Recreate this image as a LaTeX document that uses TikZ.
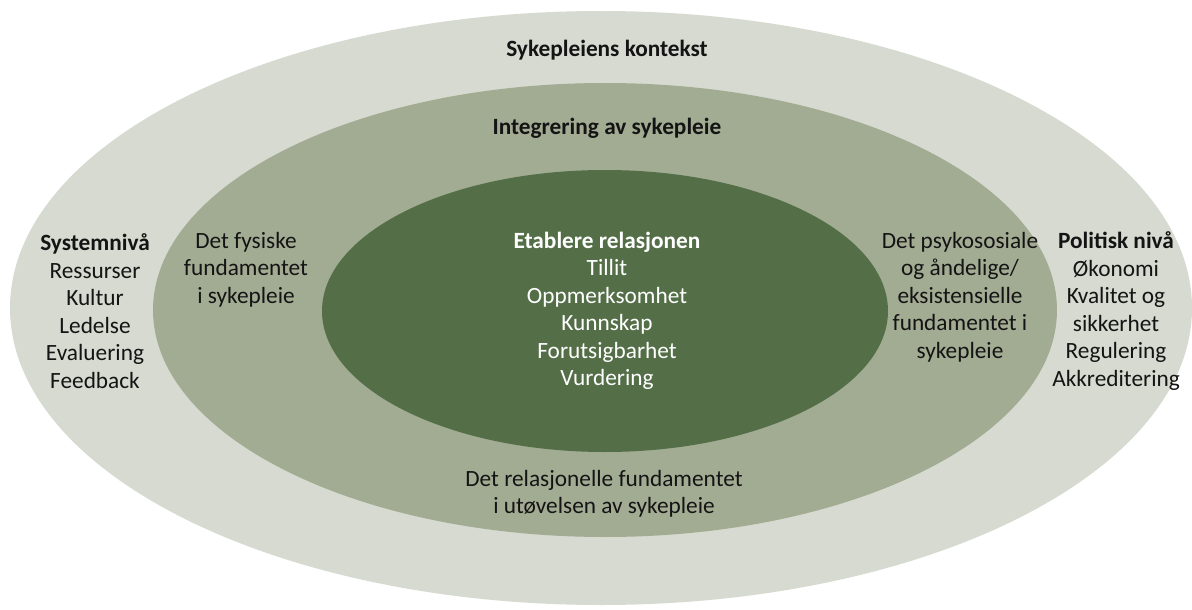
\documentclass[tikz,border=0pt]{standalone}
\usepackage{fontspec}
\setmainfont{Carlito}
\definecolor{outerc}{HTML}{D7DAD0}
\definecolor{midc}{HTML}{A2AC93}
\definecolor{innerc}{HTML}{546F48}
\definecolor{txt}{HTML}{141414}
\begin{document}
\begin{tikzpicture}[x=1pt,y=-1pt,
  lbl/.style={align=center,inner sep=0pt,text=txt,font=\fontsize{23.3}{27.5}\selectfont},
  wlbl/.style={lbl,text=white}]
\useasboundingbox (0,0) rectangle (1192,610);
\fill[outerc] (601,308) ellipse [x radius=591pt, y radius=297pt];
\fill[midc] (605,310) ellipse [x radius=452pt, y radius=227pt];
\fill[innerc] (605,311) ellipse [x radius=283pt, y radius=141pt];
\node[lbl,font=\fontsize{23.3}{27.5}\selectfont\bfseries] (ctx) at (607,50) {Sykepleiens kontekst};
\node[lbl,font=\fontsize{23.3}{27.5}\selectfont\bfseries] (integ) at (607,128) {Integrering av sykepleie};
\node[wlbl] (inner) at (607,311) {\textbf{Etablere relasjonen}\\Tillit\\Oppmerksomhet\\Kunnskap\\Forutsigbarhet\\Vurdering};
\node[lbl] (sys) at (95,311) {\textbf{Systemnivå}\\Ressurser\\Kultur\\Ledelse\\Evaluering\\Feedback};
\node[lbl] (fys) at (246,269.5) {Det fysiske\\fundamentet\\i sykepleie};
\node[lbl] (psy) at (960,297) {Det psykososiale\\og åndelige/\\eksistensielle\\fundamentet i\\sykepleie};
\node[lbl] (pol) at (1116,311) {\textbf{Politisk nivå}\\Økonomi\\Kvalitet og\\sikkerhet\\Regulering\\Akkreditering};
\node[lbl] (rel) at (604,494) {Det relasjonelle fundamentet\\i utøvelsen av sykepleie};
\end{tikzpicture}
\end{document}
